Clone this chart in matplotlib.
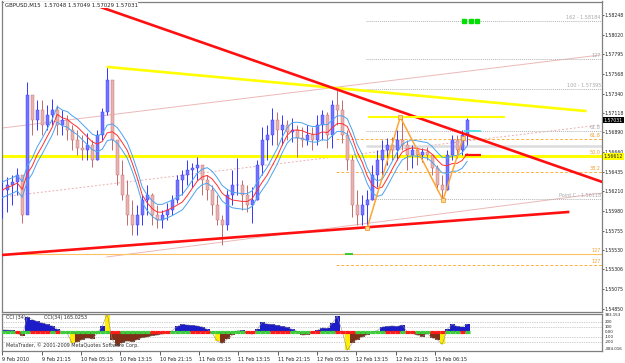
import numpy as np
import pandas as pd
import matplotlib
matplotlib.use("Agg")
import matplotlib.pyplot as plt

# ---------------- data ----------------
highs = [1.56339, 1.56374, 1.56397, 1.56478, 1.56108, 1.57473, 1.57323, 1.57265, 1.57265, 1.57207,
         1.57277, 1.57207, 1.57149, 1.57091, 1.56976, 1.56918, 1.56860, 1.56883, 1.56802, 1.56918,
         1.57172, 1.57658, 1.57381, 1.56802, 1.56571, 1.56339, 1.56108, 1.56050, 1.56166, 1.56282,
         1.56189, 1.56050, 1.55992, 1.56073, 1.56166, 1.56397, 1.56455, 1.56571, 1.56536, 1.56606,
         1.56513, 1.56397, 1.56282, 1.56166, 1.55934, 1.56224, 1.56455, 1.56594, 1.56339, 1.56282,
         1.56258, 1.56571, 1.56953, 1.56976, 1.57172, 1.57126, 1.57091, 1.57034, 1.57057, 1.56976,
         1.56953, 1.56976, 1.56953, 1.57091, 1.57149, 1.57126, 1.57265, 1.57404, 1.57265, 1.56918,
         1.56629, 1.56224, 1.56166, 1.56224, 1.56513, 1.56687, 1.56802, 1.56825, 1.56837, 1.56918,
         1.57068, 1.56802, 1.56744, 1.56721, 1.56710, 1.56721, 1.56629, 1.56513, 1.56397, 1.56687,
         1.56860, 1.56860, 1.56918, 1.57057]
lows = [1.55900, 1.55969, 1.56050, 1.56166, 1.55842, 1.56802, 1.56860, 1.56918, 1.56860, 1.56918,
        1.56976, 1.56860, 1.56860, 1.56802, 1.56687, 1.56629, 1.56571, 1.56571, 1.56490, 1.56571,
        1.56802, 1.57091, 1.56687, 1.56282, 1.56108, 1.55819, 1.55703, 1.55703, 1.55819, 1.55934,
        1.55819, 1.55784, 1.55784, 1.55877, 1.55934, 1.56073, 1.56166, 1.56282, 1.56258, 1.56339,
        1.56166, 1.56108, 1.55934, 1.55819, 1.55587, 1.55761, 1.56050, 1.56166, 1.55992, 1.55969,
        1.55842, 1.56108, 1.56397, 1.56571, 1.56744, 1.56744, 1.56744, 1.56802, 1.56779, 1.56606,
        1.56721, 1.56744, 1.56687, 1.56744, 1.56802, 1.56710, 1.56710, 1.56976, 1.56768, 1.56455,
        1.55911, 1.55819, 1.55819, 1.55784, 1.56108, 1.56258, 1.56397, 1.56513, 1.56571, 1.56571,
        1.56687, 1.56455, 1.56478, 1.56513, 1.56548, 1.56571, 1.56397, 1.56224, 1.56108, 1.56224,
        1.56571, 1.56594, 1.56629, 1.56744]
closes = [1.56224, 1.56282, 1.56316, 1.56397, 1.55934, 1.57323, 1.57034, 1.57149, 1.56976, 1.57091,
          1.57149, 1.56976, 1.57034, 1.56918, 1.56802, 1.56710, 1.56687, 1.56744, 1.56571, 1.56860,
          1.57126, 1.57496, 1.56802, 1.56397, 1.56166, 1.55934, 1.55819, 1.55934, 1.56108, 1.56166,
          1.55934, 1.55877, 1.55934, 1.55992, 1.56108, 1.56339, 1.56397, 1.56455, 1.56478, 1.56513,
          1.56339, 1.56224, 1.56050, 1.55877, 1.55819, 1.56166, 1.56282, 1.56282, 1.56166, 1.56050,
          1.56108, 1.56513, 1.56802, 1.56860, 1.57034, 1.56918, 1.56976, 1.56895, 1.56918, 1.56825,
          1.56802, 1.56860, 1.56802, 1.56976, 1.57091, 1.56860, 1.57207, 1.57149, 1.56860, 1.56571,
          1.56050, 1.55934, 1.56050, 1.56108, 1.56397, 1.56571, 1.56687, 1.56744, 1.56687, 1.56802,
          1.56744, 1.56629, 1.56687, 1.56629, 1.56663, 1.56629, 1.56478, 1.56282, 1.56224, 1.56629,
          1.56802, 1.56687, 1.56860, 1.57031]
cci = [50, 45, 40, -20, -80, 320, 260, 220, 190, 160,
       130, 60, 10, -20, -230, -200, -150, -120, -140, -20,
       120, 383, -150, -280, -220, -180, -200, -150, -110, -100,
       -70, -60, -40, -10, 30, 120, 160, 150, 140, 130,
       110, 60, -20, -180, -230, -140, -60, 30, 40, -20,
       -40, 60, 200, 170, 160, 140, 120, 100, 60, 20,
       -60, -50, -10, 40, 90, 80, 180, 330, 20, -370,
       -220, -150, -100, -50, 10, 30, 110, 120, 130, 120,
       150, 10, -20, -60, -90, -30, -120, -150, -250, 60,
       160, 120, 110, 165]
lsma_up = [1, 1, 1, 0, 1, 1, 0, 0, 0, 0,
           1, 0, 1, 1, 1, 1, 1, 1, 1, 1,
           1, 1, 0, 0, 1, 1, 1, 1, 1, 1,
           0, 0, 0, 0, 1, 1, 1, 1, 0, 0,
           0, 0, 1, 1, 1, 1, 1, 1, 1, 0,
           0, 1, 1, 1, 0, 0, 0, 0, 1, 1,
           1, 1, 0, 0, 1, 1, 1, 0, 0, 0,
           0, 1, 1, 1, 1, 1, 1, 0, 0, 0,
           1, 0, 0, 1, 1, 1, 0, 0, 0, 1,
           1, 1, 0, 1]
cci_yellow = [14, 21, 43, 69, 88]

last_bar = 378
date_bars = [0, 32, 64, 96, 128, 160, 192, 224, 256, 288, 320, 352]
date_labels = ["9 Feb 2010", "9 Feb 21:15", "10 Feb 05:15", "10 Feb 13:15", "10 Feb 21:15",
               "11 Feb 05:15", "11 Feb 13:15", "11 Feb 21:15", "12 Feb 05:15", "12 Feb 13:15",
               "12 Feb 21:15", "15 Feb 06:15"]
price_ticks = [1.58248, 1.58020, 1.57795, 1.57568, 1.57340, 1.57118, 1.56890, 1.56660,
               1.56435, 1.56210, 1.55980, 1.55755, 1.55530, 1.55306, 1.55075, 1.54850]
price_tick_labels = ["%.5f" % v for v in price_ticks]

red_down_line = ([68, 488], [1.58400, 1.56316])
red_up_line = ([0, 460], [1.55472, 1.55969])
yellow_down_line = ([86, 474], [1.57647, 1.57138])
pink_solid_lines = [([0, 486], [1.56941, 1.57786]),
                    ([85, 488], [1.55449, 1.56189])]
pink_dashed_line = ([0, 486], [1.56143, 1.56976])
yellow_level = 1.56612
yellow_short = ([297, 409], 1.57068)
cyan_short = ([375, 389], 1.56906)
red_short = ([376, 389], 1.56629)
gray_band = ([296, 488], 1.56733)

fib_exp_start = 296
fib_exp_prices = [1.56118, 1.56907, 1.57395, 1.57740, 1.58184]
fib_exp_labels = ["Point C - 1.56118", "61.8", "100 - 1.57395", "127", "162 - 1.58184"]
fib_ret_start = 271
fib_ret_prices = [1.56814, 1.56623, 1.56432, 1.55356]
fib_ret_labels = ["61.8", "50.0", "38.2", "127"]
fib_full_price = 1.55483
fib_full_label = "127"

zz_bars = [296.7, 323.6, 358.3, 374.8]
zz_prices = [1.55784, 1.57068, 1.56108, 1.56825]
green_marks = [375, 381, 386]
green_marks_price = 1.58184
green_small = ([279, 285], 1.55483)

current_price = 1.57031
header = "GBPUSD,M15  1.57048 1.57049 1.57029 1.57031"

# ---------------- figure ----------------
W, H = 625, 363
fig = plt.figure(figsize=(W / 100, H / 100), dpi=100, facecolor="white")


def px_axes(l, t, r, b):
    return fig.add_axes([l / W, 1 - b / H, (r - l) / W, (b - t) / H])


ax = px_axes(2, 1.5, 602, 312)
cax = px_axes(2, 313.5, 602, 351)
XL = (-0.2, 487.6)
FS = 3.5
YFS = 3.3
GRAY = "#7f7f7f"

n = len(closes)
xs = np.linspace(0, last_bar, n)
step = xs[1] - xs[0]
hi = np.array(highs); lo = np.array(lows); cl = np.array(closes)
op = np.r_[cl[0], cl[:-1]]
up = cl >= op

# pink channel lines
for bx, py in pink_solid_lines:
    ax.plot(bx, py, color="#ebb8b8", lw=0.7, zorder=1)
ax.plot(*pink_dashed_line, color="#ebb0b0", lw=0.7, ls=(0, (2, 2)), zorder=1)

# fib expansion (gray dotted)
for p, lab in zip(fib_exp_prices, fib_exp_labels):
    ax.hlines(p, fib_exp_start, XL[1], colors="#b4b4b4", linestyles=(0, (1, 1)), lw=0.7, zorder=1)
    ax.text(XL[1] - 1, p + 0.0001, lab, color="#a8a8a8", fontsize=FS, ha="right", va="bottom", zorder=6)
ax.hlines(gray_band[1], gray_band[0][0], gray_band[0][1], colors="#dcdcdc", lw=1.8, zorder=1)

# fib retracement (orange dashed)
for p, lab in zip(fib_ret_prices, fib_ret_labels):
    ax.hlines(p, fib_ret_start, XL[1], colors="#ffb040", linestyles=(0, (3, 2)), lw=0.7, zorder=1)
    ax.text(XL[1] - 1, p + 0.0001, lab, color="#f0a030", fontsize=FS, ha="right", va="bottom", zorder=6)
ax.axhline(fib_full_price, color="#ffc060", lw=0.8, zorder=1)
ax.text(XL[1] - 1, fib_full_price + 0.0001, fib_full_label, color="#f0a030", fontsize=FS,
        ha="right", va="bottom", zorder=6)

# yellow level
ax.axhline(yellow_level, color="#ffff00", lw=2.2, zorder=2)

# candles
wick_col = np.where(up, "#3535ff", "#c06a6a")
body_col = np.where(up, "#7474ff", "#e8b2b2")
ax.vlines(xs, lo, hi, colors=wick_col, lw=0.7, zorder=3)
ax.bar(xs, np.maximum(np.abs(cl - op), 0.00004), bottom=np.minimum(cl, op), width=2.4,
       color=body_col, edgecolor=wick_col, linewidth=0.3, zorder=3)

# moving average envelope
ma = pd.Series(closes).rolling(7, min_periods=1).mean().to_numpy()
ax.plot(xs, ma, color="#ff3030", lw=0.7, zorder=4)
ax.plot(xs, ma + 0.0009, color="#4aa3f0", lw=0.7, zorder=4)
ax.plot(xs, ma - 0.0009, color="#4aa3f0", lw=0.7, zorder=4)

# trend lines
ax.plot(*yellow_down_line, color="#ffff00", lw=1.9, zorder=5)
ax.plot(*red_down_line, color="#ff1010", lw=1.9, zorder=5)
ax.plot(*red_up_line, color="#ff1010", lw=1.9, zorder=5)
ax.hlines(yellow_short[1], *yellow_short[0], colors="#ffff00", lw=1.5, zorder=5)
ax.hlines(cyan_short[1], *cyan_short[0], colors="#40e0e8", lw=1.2, zorder=5)
ax.hlines(red_short[1], *red_short[0], colors="#ff1010", lw=1.6, zorder=5)
ax.hlines(green_small[1], *green_small[0], colors="#33cc33", lw=1.4, zorder=5)

# zigzag
ax.plot(zz_bars, zz_prices, color="#ffa530", lw=1.1, marker="s", ms=2.2,
        mfc="#ffd890", mec="#e89020", mew=0.5, zorder=6)
ax.plot(green_marks, [green_marks_price] * len(green_marks), ls="none", marker="s",
        ms=3.2, color="#00e000", zorder=6)

# header
ax.text(2, 1.58395, header, fontsize=3.9, color="#202020", ha="left", va="top", zorder=10,
        bbox=dict(facecolor="white", edgecolor="none", pad=0.3))

# price axis
ax.set_xlim(*XL)
ax.set_ylim(1.54812, 1.58405)
ax.yaxis.tick_right()
ax.set_yticks(price_ticks)
ax.set_yticklabels(price_tick_labels)
ax.tick_params(axis="y", length=1.6, width=0.6, color="#404040", labelsize=YFS, pad=0.5,
               labelcolor="#202020")
ax.set_xticks([])
ax.text(1.003, current_price, "%.5f" % current_price, transform=ax.get_yaxis_transform(),
        fontsize=YFS, color="white", va="center", ha="left", zorder=10,
        bbox=dict(facecolor="black", edgecolor="none", pad=0.5))
ax.text(1.003, yellow_level, "%.5f" % yellow_level, transform=ax.get_yaxis_transform(),
        fontsize=YFS, color="#202020", va="center", ha="left", zorder=10,
        bbox=dict(facecolor="#ffff00", edgecolor="none", pad=0.5))

# ---------------- CCI panel ----------------
cv = np.array(cci, dtype=float)
ccol = np.where(cv >= 0, "#1c1cc8", "#7e3018").astype(object)
for k in cci_yellow:
    ccol[k] = "#ffee00"
cax.bar(xs, cv, width=step, color=list(ccol), linewidth=0, zorder=2)
cax.plot(xs, cv, color="#8c8c8c", lw=0.4, zorder=3)
for lv in (200, 100, -100, -200):
    cax.axhline(lv, color="#a0a0a0", lw=0.5, ls=(0, (1, 1.5)), zorder=1)
band = np.where(np.array(lsma_up) == 1, "#3ccc3c", "#ff1a1a")
cax.hlines(np.zeros(n), xs - step / 2, xs + step / 2, colors=band, lw=2.3, zorder=4)

cax.set_xlim(*XL)
cax.set_ylim(-384.016, 383.153)
cax.set_yticks([])
cax.set_xticks(date_bars)
cax.set_xticklabels(date_labels)
for t in cax.get_xticklabels():
    t.set_ha("left")
cax.tick_params(axis="x", length=3, width=0.6, color="#404040", labelsize=FS, pad=1.5,
                labelcolor="#202020")
yt = cax.get_yaxis_transform()
for v, lab, va in [(383.153, "383.153", "top"), (200, "200", "center"), (100, "100", "center"),
                   (0, "0.00", "center"), (-100, "-100", "center"), (-200, "-200", "center"),
                   (-384.016, "-384.016", "bottom")]:
    cax.text(1.004, v, lab, transform=yt, fontsize=2.9, color="#202020", va=va, ha="left")
cax.text(4 / 600, 0.9, "CCI (34)", transform=cax.transAxes, fontsize=FS, color="#303030",
         va="center", ha="left")
cax.text(42 / 600, 0.9, "CCI(34) 165.0253", transform=cax.transAxes, fontsize=FS,
         color="#303030", va="center", ha="left")
cax.text(4 / 600, 0.15, "MetaTrader, \u00a9 2001-2009 MetaQuotes Software Corp.",
         transform=cax.transAxes, fontsize=FS, color="#303030", va="center", ha="left", zorder=6)

for a in (ax, cax):
    a.set_facecolor("white")
    for s in a.spines.values():
        s.set_color(GRAY)
        s.set_linewidth(0.9)

fig.savefig("out.png", dpi=100, facecolor="white")
